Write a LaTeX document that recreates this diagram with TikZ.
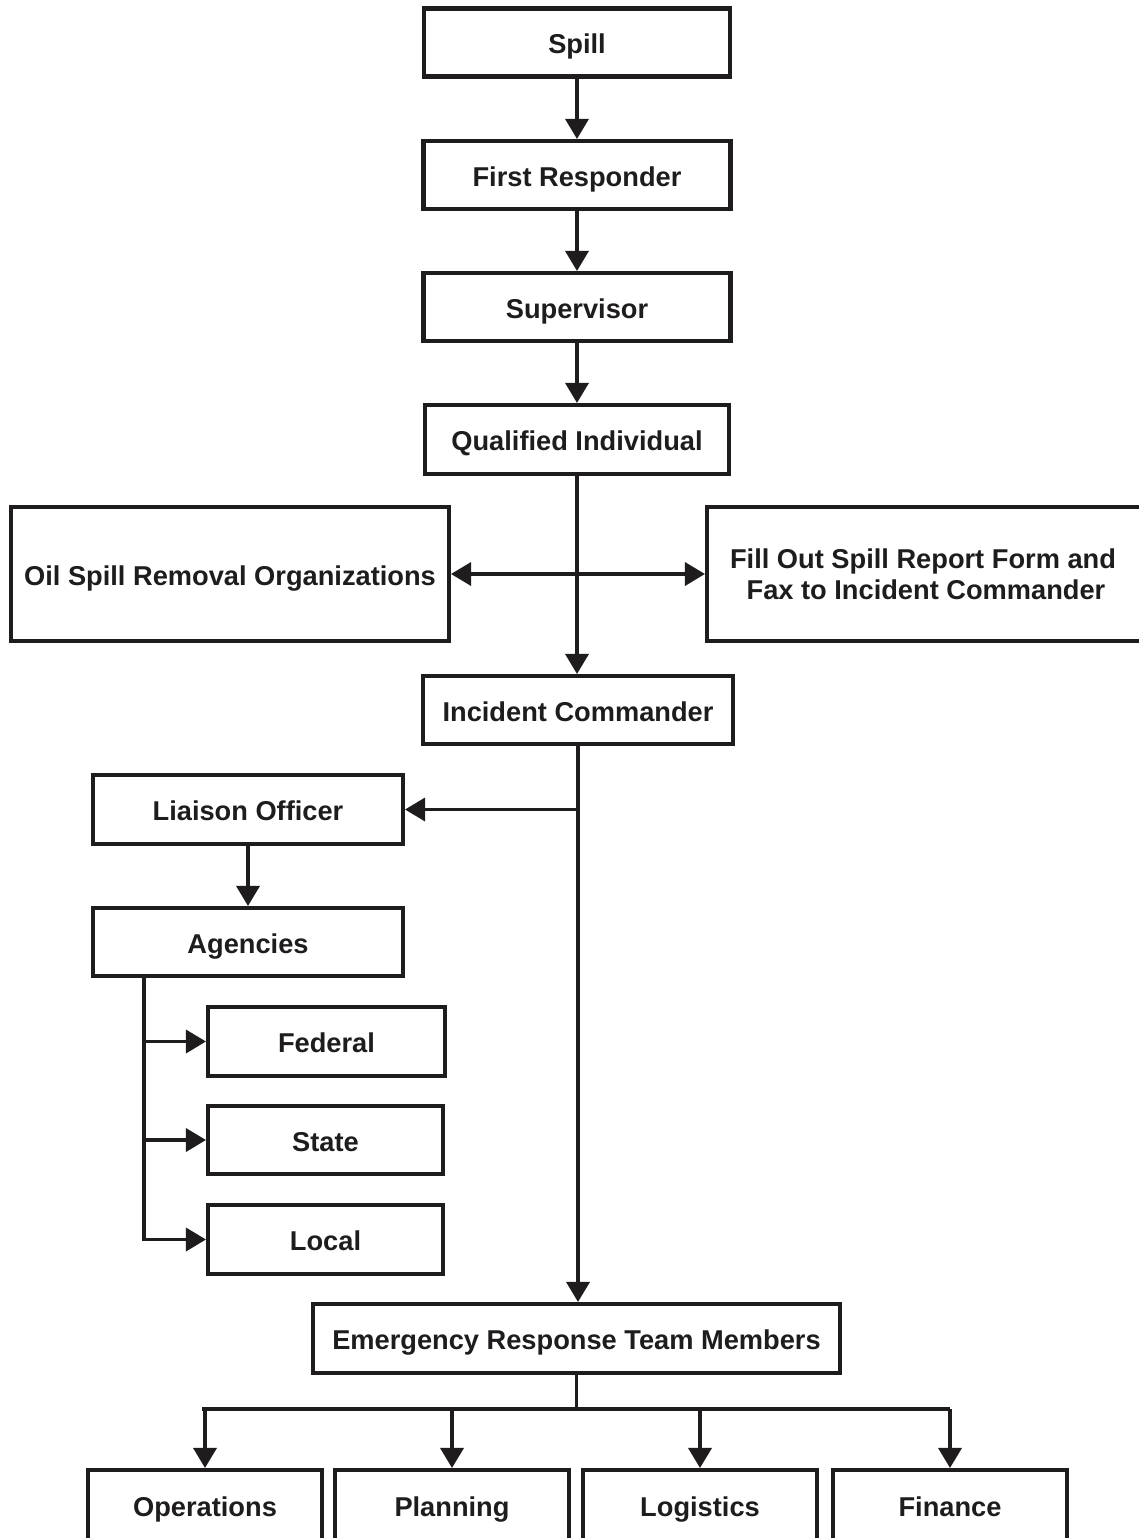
\documentclass[tikz,border=0pt]{standalone}
\usepackage{fontspec}
\setmainfont{Liberation Sans}
\usepackage{tikz}
\usetikzlibrary{calc,arrows.meta}

\definecolor{ink}{RGB}{30,28,28}

\tikzset{
    box/.style={draw=ink, text=ink, line width=2.3pt, inner sep=0pt, align=center,
        text height=15pt, text depth=2.4pt,
        font=\bfseries\fontsize{15.5}{17.6}\selectfont},
    conn/.style={draw=ink, line width=1.9pt},
    arr/.style={conn, -{Triangle[length=0.4cm, width=0.46cm]}},
    twoarr/.style={conn, {Triangle[length=0.4cm, width=0.46cm]}-{Triangle[length=0.4cm, width=0.46cm]}}
}

\begin{document}
\begin{tikzpicture}
    \useasboundingbox (0,0) rectangle (22.78,-30.76);
    \fill[white] (0,0) rectangle (22.78,-30.76);

    \node[box, minimum width=6.12cm, minimum height=1.36cm] (spill) at (11.54,-0.85) {Spill};
    
    \node[box, minimum width=6.14cm, minimum height=1.36cm] (first) at ($(spill) + (0, -2.65)$) {First Responder};
    
    \node[box, minimum width=6.14cm, minimum height=1.36cm] (super) at ($(spill) + (0, -5.29)$) {Supervisor};
    
    \node[box, minimum width=6.08cm, minimum height=1.38cm] (qual) at ($(spill) + (0, -7.94)$) {Qualified Individual};
    
    \node[box, minimum width=8.76cm, minimum height=2.68cm] (osro) at ($(spill) + (-6.94, -10.63)$) {Oil Spill Removal Organizations};
    
    \node[box, minimum width=8.76cm, minimum height=2.68cm, text height=, text depth=] (report) at ($(spill) + (6.98, -10.63)$) {\hspace*{-0.12cm}Fill Out Spill Report Form and\\Fax to Incident Commander};
    
    \node[box, minimum width=6.2cm, minimum height=1.36cm] (ic) at ($(spill) + (0.02, -13.35)$) {Incident Commander};
    
    \node[box, minimum width=6.2cm, minimum height=1.38cm] (liaison) at ($(spill) + (-6.58, -15.34)$) {Liaison Officer};
    
    \node[box, minimum width=6.2cm, minimum height=1.36cm] (agencies) at ($(spill) + (-6.58, -17.99)$) {Agencies};
    
    \node[box, minimum width=4.74cm, minimum height=1.38cm] (federal) at ($(spill) + (-5.01, -19.98)$) {Federal};
    
    \node[box, minimum width=4.7cm, minimum height=1.36cm] (state) at ($(spill) + (-5.03, -21.95)$) {State};
    
    \node[box, minimum width=4.7cm, minimum height=1.38cm] (local) at ($(spill) + (-5.03, -23.94)$) {Local};
    
    \node[box, minimum width=10.54cm, minimum height=1.38cm] (ert) at ($(spill) + (-0.01, -25.92)$) {Emergency Response Team Members};
    
    \node[box, minimum width=4.68cm, minimum height=1.4cm] (ops) at ($(spill) + (-7.44, -29.25)$) {Operations};
    
    \node[box, minimum width=4.68cm, minimum height=1.4cm] (plan) at ($(spill) + (-2.5, -29.25)$) {Planning};
    
    \node[box, minimum width=4.68cm, minimum height=1.4cm] (logi) at ($(spill) + (2.46, -29.25)$) {Logistics};
    
    \node[box, minimum width=4.68cm, minimum height=1.4cm] (fin) at ($(spill) + (7.46, -29.25)$) {Finance};
    
    % main spine
    \draw[arr] (spill.south) -- (first.north);
    \draw[arr] (first.south) -- (first.south |- super.north);
    \draw[arr] (super.south) -- (super.south |- qual.north);
    \draw[arr] (qual.south) -- (qual.south |- ic.north);
    \draw[twoarr] (osro.east) -- (report.west);
    \draw[arr] (ic.south) -- (ic.south |- ert.north);
    
    % liaison branch
    \draw[arr] (ic.south |- liaison.east) -- (liaison.east);
    \draw[arr] (liaison.south) -- (agencies.north);
    \coordinate (trunk) at ($(agencies.south west) + (1.06, 0)$);
    \draw[arr] (trunk) |- (local.west);
    \draw[arr] (trunk |- federal.west) -- (federal.west);
    \draw[arr] (trunk |- state.west) -- (state.west);
    
    % team members
    \coordinate (bus) at ($(ert.south) + (0, -0.68)$);
    \draw[conn] (ert.south) -- (bus);
    \draw[conn] ($(bus -| ops.north) + (-0.06, 0)$) -- (bus -| fin.north);
    \foreach \n in {ops, plan, logi, fin}
        \draw[arr] (bus -| \n.north) -- (\n.north);
    
\end{tikzpicture}
\end{document}
